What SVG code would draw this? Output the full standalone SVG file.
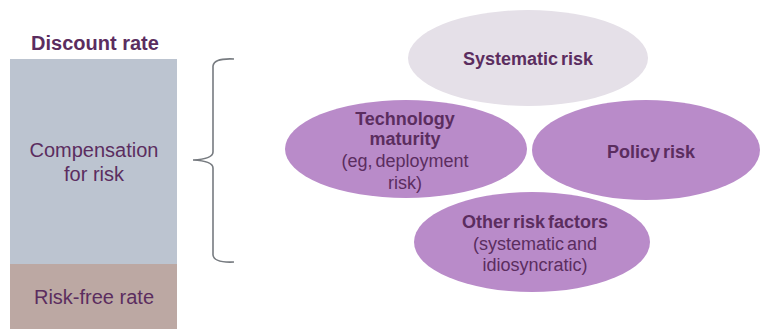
<svg xmlns="http://www.w3.org/2000/svg" width="761" height="329" viewBox="0 0 761 329">
<style>
text{font-family:"Liberation Sans",Arial,sans-serif;fill:#5b2d5f;text-anchor:middle}
.b{font-weight:bold}
.ell{fill:#b98bc9}
.t16{font-size:18px}
.ws{word-spacing:-2px}
</style>
<rect width="761" height="329" fill="#ffffff"/>
<g id="title"><text class="b" x="95" y="50" font-size="20">Discount rate</text></g>
<g id="compensation">
<rect x="10" y="59" width="167" height="205" fill="#bcc4d0"/>
<text x="94" y="157" font-size="20">Compensation</text>
<text x="94" y="181" font-size="20">for risk</text>
</g>
<g id="riskfree">
<rect x="10" y="264" width="167" height="65" fill="#bca8a3"/>
<text x="94" y="304" font-size="20">Risk-free rate</text>
</g>
<g id="connectors">
<path d="M234 59 Q214 58 213 66 L213 152 Q213 159 193 160 Q213 161 213 168 L213 255 Q214 263 234 262" fill="none" stroke="#777b80" stroke-width="1.6"/>
</g>
<g id="systematic">
<ellipse cx="528" cy="58" rx="120" ry="48" fill="#e5e0e8"/>
<text class="b t16 ws" x="528" y="65">Systematic risk</text>
</g>
<g id="technology">
<ellipse class="ell" cx="406" cy="149" rx="121" ry="49"/>
<text class="b t16" x="405" y="125">Technology</text>
<text class="b t16" x="405" y="145">maturity</text>
<text class="t16 ws" x="405" y="167">(eg, deployment</text>
<text class="t16" x="405" y="189">risk)</text>
</g>
<g id="policy">
<ellipse class="ell" cx="646" cy="150" rx="114" ry="50"/>
<text class="b t16 ws" x="651" y="158">Policy risk</text>
</g>
<g id="other">
<ellipse class="ell" cx="532" cy="242" rx="118" ry="50"/>
<text class="b t16 ws" x="535" y="228">Other risk factors</text>
<text class="t16 ws" x="535" y="250">(systematic and</text>
<text class="t16" x="535" y="271">idiosyncratic)</text>
</g>
</svg>
